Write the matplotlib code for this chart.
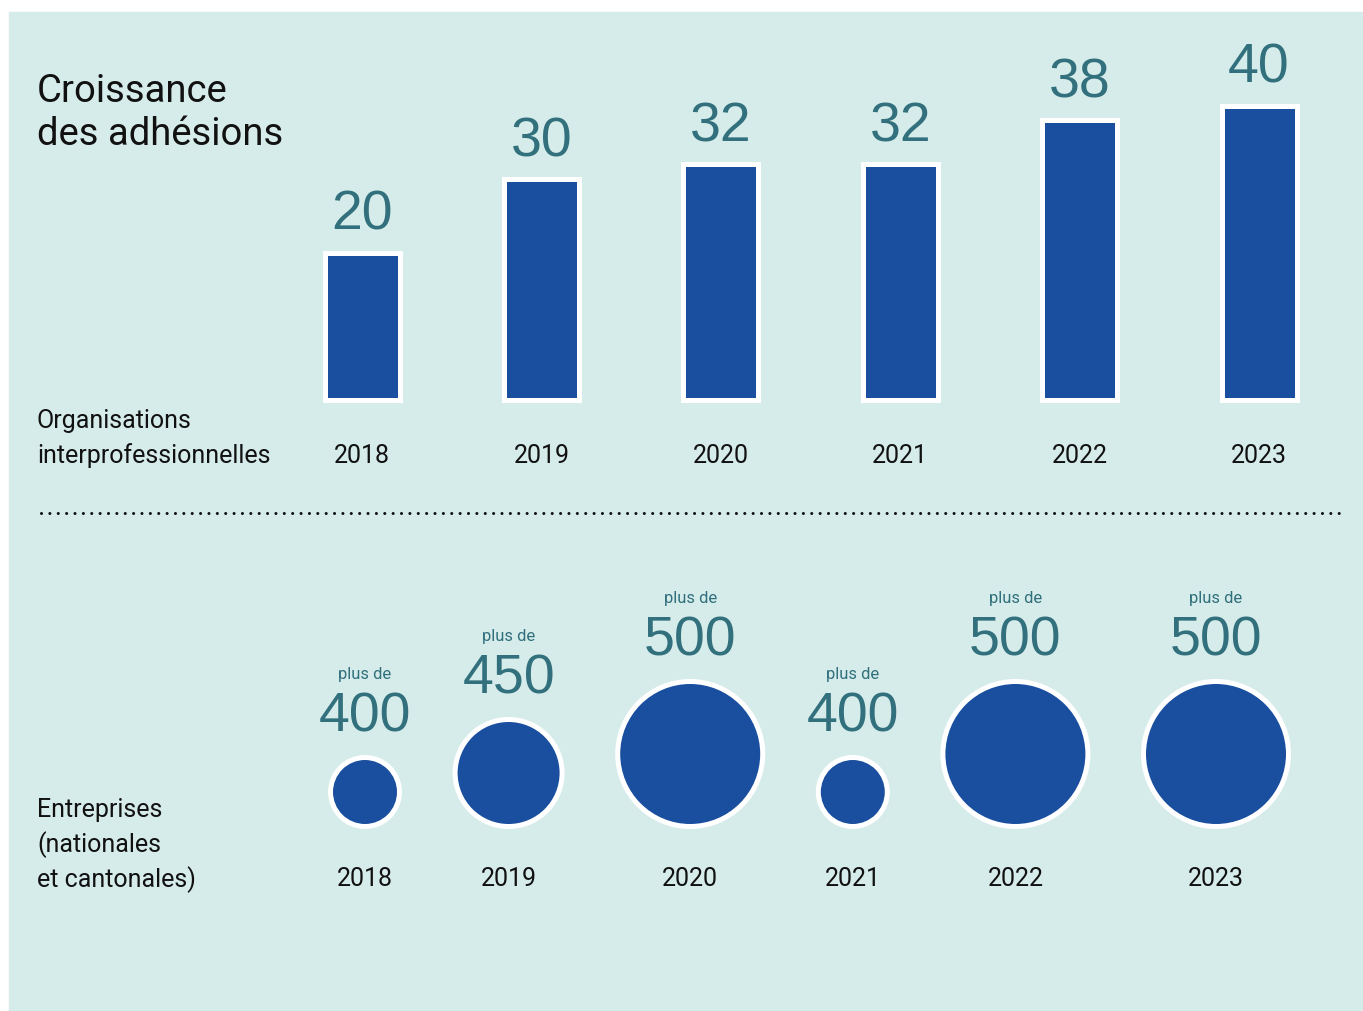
import matplotlib
matplotlib.use("Agg")
import matplotlib.pyplot as plt
from matplotlib.patches import Rectangle, Circle
import numpy as np

# data
years = ["2018", "2019", "2020", "2021", "2022", "2023"]
organisations = [20, 30, 32, 32, 38, 40]
entreprises = [400, 450, 500, 400, 500, 500]
entreprises_prefix = "plus de"

title_lines = ["Croissance", "des adhésions"]
org_label = ["Organisations", "interprofessionnelles"]
ent_label = ["Entreprises", "(nationales", "et cantonales)"]

W, H = 1363, 1012
BG = "#d6ecea"
BLUE = "#1a4f9f"
TEAL = "#31707c"
TXT = "#111111"
NUM_FONT = "Liberation Sans"
LBL_FONT = "Roboto"

fig = plt.figure(figsize=(W / 100, H / 100), dpi=100)
fig.patch.set_facecolor("white")

# overlay axes in pixel coordinates (y downwards)
ax = fig.add_axes([0, 0, 1, 1])
ax.set_xlim(0, W)
ax.set_ylim(H, 0)
ax.set_axis_off()
ax.add_patch(Rectangle((9, 13), W - 9, H - 13, color=BG, zorder=0))

# title
for k, line in enumerate(title_lines):
    ax.text(37, 102 + 43 * k, line, fontsize=27.5, family=LBL_FONT,
            color=TXT, va="baseline", ha="left")

for k, line in enumerate(org_label):
    ax.text(37, 428 + 35 * k, line, fontsize=18, family=LBL_FONT,
            color=TXT, va="baseline", ha="left")

for k, line in enumerate(ent_label):
    ax.text(37, 817 + 35 * k, line, fontsize=18, family=LBL_FONT,
            color=TXT, va="baseline", ha="left")

# dotted separator
ax.plot([41, 1345], [514, 514], color="#111111", lw=2.2,
        dashes=(0.01, 2.73), dash_capstyle="round")

# --- bars: organisations
px_per_unit = 7.35
base_px = 400.5
slot = 179.4
left_px = 362 - slot / 2
bax = fig.add_axes([left_px / W, (H - base_px) / H, 6 * slot / W, base_px / H])
bax.set_xlim(-0.5, 5.5)
bax.set_ylim(0, base_px / px_per_unit)
bax.set_axis_off()
bax.patch.set_alpha(0)

x = np.arange(len(years))
bax.bar(x, organisations, width=75 / slot, color=BLUE, edgecolor="white",
        linewidth=3.6, clip_on=False)
for i, v in enumerate(organisations):
    bax.annotate(str(v), (i, v), xytext=(0, 17), textcoords="offset points",
                 ha="center", va="baseline", fontsize=40, family=NUM_FONT,
                 color=TEAL, annotation_clip=False)
    bax.annotate(years[i], (i, 0), xytext=(0, -45), textcoords="offset points",
                 ha="center", va="baseline", fontsize=18, family=LBL_FONT,
                 color=TXT, annotation_clip=False)

# --- circles: entreprises
def radius(v):
    return 32 + 0.38 * (v - 400)

radii = [radius(v) for v in entreprises]
gap = 60.6
fill_bottom = 825
pos = 333.0
for i, (v, r) in enumerate(zip(entreprises, radii)):
    cx = pos + r
    cy = fill_bottom - r
    pos = cx + r + gap
    ax.add_patch(Circle((cx, cy), r + 2.5, facecolor=BLUE, edgecolor="white",
                        linewidth=3.6, zorder=3))
    num_base = cy - r - 5 - 24
    ax.text(cx, num_base, str(v), fontsize=40, family=NUM_FONT, color=TEAL,
            ha="center", va="baseline")
    ax.text(cx, num_base - 53, entreprises_prefix, fontsize=12, family=LBL_FONT,
            color=TEAL, ha="center", va="baseline")
    ax.text(cx, 886, years[i], fontsize=18, family=LBL_FONT, color=TXT,
            ha="center", va="baseline")

fig.savefig("out.png", dpi=100, facecolor=fig.get_facecolor())
plt.close()
